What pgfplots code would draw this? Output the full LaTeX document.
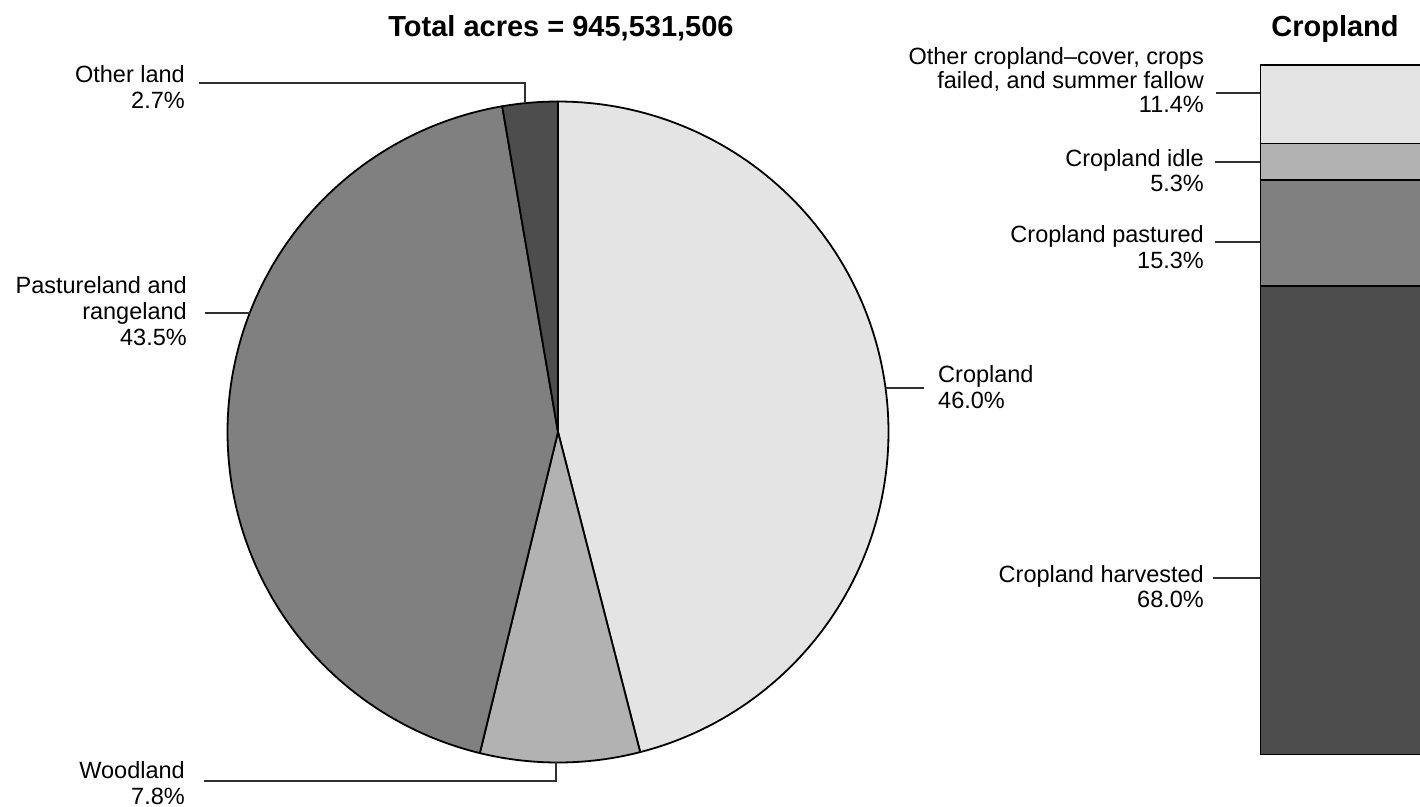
\documentclass[border=0pt]{standalone}
\usepackage{fontspec}
\setmainfont{Liberation Sans}
\usepackage{pgfplots}
\usepackage{pgfplotstable}
\pgfplotsset{compat=1.18}

\definecolor{g1}{HTML}{E4E4E4}
\definecolor{g2}{HTML}{B2B2B2}
\definecolor{g3}{HTML}{808080}
\definecolor{g4}{HTML}{4D4D4D}
\definecolor{leadc}{HTML}{303030}

% shares of total acres, clockwise from 12 o'clock
\pgfplotstableread{
share
46.0
7.8
43.5
2.7
}\piedata

\newcommand\lab{\fontsize{23.5bp}{26bp}\selectfont}
\newcommand\ttl{\fontsize{29bp}{32bp}\selectfont\bfseries}

\begin{document}
\begin{tikzpicture}
\pgfplotstablegetelem{0}{share}\of\piedata \let\sA\pgfplotsretval
\pgfplotstablegetelem{1}{share}\of\piedata \let\sB\pgfplotsretval
\pgfplotstablegetelem{2}{share}\of\piedata \let\sC\pgfplotsretval
\pgfmathsetmacro\aA{90-3.6*\sA}
\pgfmathsetmacro\aB{\aA-3.6*\sB}
\pgfmathsetmacro\aC{\aB-3.6*\sC}
\tikzset{leader/.style={leadc, line width=1.1bp},
  slice/.style={draw=black, line width=1.8bp, line join=round, samples=120, variable=\t},
  lr/.style={anchor=base east, inner sep=0pt, font=\lab},
  ll/.style={anchor=base west, inner sep=0pt, font=\lab}}

\begin{axis}[at={(0,0)}, anchor=south west, scale only axis,
  width=1420bp, height=807bp, hide axis, clip=false,
  xmin=0, xmax=1420, ymin=0, ymax=807, y dir=reverse]

  \addplot[slice, fill=g1, domain=\aA:90] ({558+330.5*cos(\t)},{432-330.5*sin(\t)}) -- (axis cs:558,432) -- cycle;
  \addplot[slice, fill=g2, domain=\aB:\aA] ({558+330.5*cos(\t)},{432-330.5*sin(\t)}) -- (axis cs:558,432) -- cycle;
  \addplot[slice, fill=g3, domain=\aC:\aB] ({558+330.5*cos(\t)},{432-330.5*sin(\t)}) -- (axis cs:558,432) -- cycle;
  \addplot[slice, fill=g4, domain=-270:\aC] ({558+330.5*cos(\t)},{432-330.5*sin(\t)}) -- (axis cs:558,432) -- cycle;

  % leader lines
  \addplot[leader] coordinates {(199,83) (525,83) (525,103.5)};
  \addplot[leader] coordinates {(205,313) (250,313)};
  \addplot[leader] coordinates {(204,781) (556,781) (556,762)};
  \addplot[leader] coordinates {(885.5,388) (924,388)};
  \addplot[leader] coordinates {(1216,93) (1260,93)};
  \addplot[leader] coordinates {(1215,162) (1260,162)};
  \addplot[leader] coordinates {(1215,242) (1260,242)};
  \addplot[leader] coordinates {(1213,578) (1260,578)};

  \node[anchor=base, font=\ttl] at (axis cs:561,37) {Total acres = 945,531,506};
  \node[anchor=base, font=\ttl] at (axis cs:1335,37) {Cropland};

  \node[lr] at (axis cs:185,83) {Other land};
  \node[lr] at (axis cs:185,109) {2.7\%};
  \node[lr] at (axis cs:187,293) {Pastureland and};
  \node[lr] at (axis cs:187,319) {rangeland};
  \node[lr] at (axis cs:187,345) {43.5\%};
  \node[lr] at (axis cs:185,778) {Woodland};
  \node[lr] at (axis cs:185,804) {7.8\%};
  \node[ll] at (axis cs:938,382) {Cropland};
  \node[ll] at (axis cs:938,408) {46.0\%};

  \node[lr] at (axis cs:1204,65) {Other cropland–cover, crops};
  \node[lr] at (axis cs:1204,89) {failed, and summer fallow};
  \node[lr] at (axis cs:1204,113) {11.4\%};
  \node[lr] at (axis cs:1204,167) {Cropland idle};
  \node[lr] at (axis cs:1204,192) {5.3\%};
  \node[lr] at (axis cs:1204,242) {Cropland pastured};
  \node[lr] at (axis cs:1204,268) {15.3\%};
  \node[lr] at (axis cs:1204,582) {Cropland harvested};
  \node[lr] at (axis cs:1204,607) {68.0\%};
\end{axis}

% cropland breakdown, stacked from the bottom
\begin{axis}[at={(1260bp,52bp)}, anchor=south west, scale only axis,
  width=160bp, height=690bp, hide axis,
  xmin=0, xmax=1, ymin=0, ymax=100, ybar stacked, bar width=2]
  \addplot[fill=g4, draw=black, line width=1.5bp] coordinates {(1,68.0)};
  \addplot[fill=g3, draw=black, line width=1.5bp] coordinates {(1,15.3)};
  \addplot[fill=g2, draw=black, line width=1.5bp] coordinates {(1,5.3)};
  \addplot[fill=g1, draw=black, line width=1.5bp] coordinates {(1,11.4)};
\end{axis}

\pgfresetboundingbox
\path[use as bounding box] (0,0) rectangle (1420bp,807bp);
\end{tikzpicture}
\end{document}
